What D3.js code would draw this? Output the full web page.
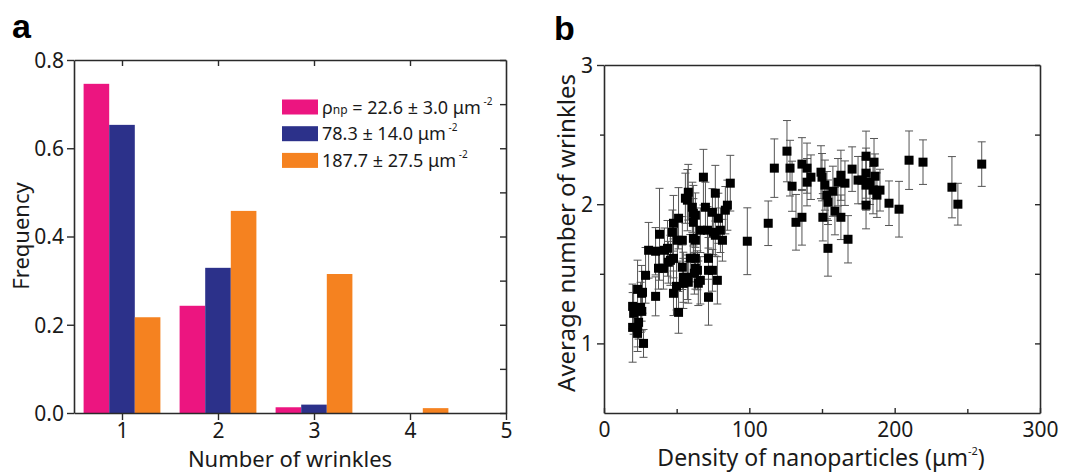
<!DOCTYPE html>
<html><head><meta charset="utf-8">
<script src="https://cdn.jsdelivr.net/npm/d3@7/dist/d3.min.js"></script>
<style>body{margin:0;background:#fff}svg{display:block;font-family:"Noto Sans","Open Sans",sans-serif}</style>
</head><body><svg id="c" width="1065" height="474"></svg>
<script>
// ---- Panel a data ----
const wrinkleCounts = [1, 2, 3, 4];
const seriesNames = ["22.6", "78.3", "187.7"];
const seriesColors = ["#EC1580", "#2C318A", "#F58220"];
const freqLow = [0.746, 0.243, 0.013, 0.0];
const freqMid = [0.653, 0.329, 0.019, 0.0];
const freqHigh = [0.217, 0.458, 0.315, 0.011];
const xTicksA = [1, 2, 3, 4, 5];
const yTicksA = [0.0, 0.2, 0.4, 0.6, 0.8];

// ---- Panel b data ----
const density = [19.7,25.2,20.4,26.0,23.8,19.7,23.1,23.1,27.2,23.1,25.9,28.6,35.5,30.7,35.5,41.6,38.2,37.5,40.9,43.7,45.7,44.3,47.8,51.3,47.8,49.9,47.8,51.3,47.1,53.9,50.5,53.9,54.6,57.4,58.0,54.6,57.4,58.0,56.0,60.8,61.5,62.9,61.5,61.5,62.9,59.4,62.9,62.2,64.3,64.9,62.9,66.3,66.3,68.4,69.8,71.2,71.9,71.9,74.6,71.9,74.6,75.2,76.6,76.6,78.0,78.7,80.1,81.5,83.5,84.9,86.9,26.5,
  98.6,117.2,113.0,125.9,128.0,129.4,132.1,136.2,136.2,139.7,139.7,142.4,149.3,150.0,152.0,153.4,154.1,157.5,158.9,163.0,150.6,154.1,161.0,163.0,165.8,167.9,170.7,174.8,180.3,185.8,180.3,186.5,177.6,180.3,183.0,185.1,189.9,187.8,180.3,196.1,203.0,209.9,219.5,239.4,243.5,259.9];
const avgWrinkles = [1.266,1.259,1.216,1.230,1.151,1.115,1.115,1.072,1.000,1.388,1.360,1.489,1.338,1.669,1.662,1.669,1.784,1.540,1.540,1.683,1.597,1.583,1.611,1.223,1.360,1.410,1.863,1.899,1.798,1.741,1.741,1.547,1.475,1.475,1.439,1.431,2.029,2.086,2.043,1.978,1.935,1.921,1.870,1.755,1.741,1.612,1.612,1.504,1.525,1.432,1.540,1.453,1.813,2.194,1.978,1.813,1.611,1.525,1.525,1.331,1.942,1.798,2.079,1.777,1.453,1.899,1.813,1.741,1.957,1.993,2.151,1.367,
  1.734,2.259,1.863,2.381,2.259,2.129,1.870,1.906,2.288,2.259,2.158,2.194,2.230,2.194,2.137,2.065,2.014,2.093,1.950,1.906,1.906,1.683,2.158,2.208,2.151,1.748,2.252,2.173,2.345,2.302,2.223,2.201,2.173,2.137,2.158,2.101,2.101,2.065,1.993,2.007,1.964,2.316,2.302,2.122,2.000,2.288];
const wrinkleErr = [0.16,0.18,0.15,0.14,0.12,0.25,0.14,0.13,0.10,0.21,0.20,0.20,0.14,0.20,0.17,0.16,0.33,0.15,0.15,0.20,0.18,0.15,0.14,0.15,0.16,0.17,0.20,0.22,0.16,0.17,0.15,0.16,0.18,0.16,0.15,0.18,0.22,0.20,0.18,0.18,0.20,0.16,0.17,0.15,0.16,0.17,0.14,0.15,0.14,0.16,0.15,0.17,0.16,0.20,0.18,0.17,0.15,0.16,0.15,0.20,0.17,0.16,0.20,0.15,0.17,0.18,0.16,0.15,0.17,0.18,0.20,0.15,
  0.24,0.21,0.16,0.22,0.20,0.18,0.20,0.20,0.19,0.18,0.17,0.16,0.19,0.17,0.18,0.17,0.16,0.18,0.17,0.16,0.17,0.20,0.17,0.18,0.16,0.17,0.16,0.17,0.18,0.17,0.18,0.16,0.17,0.18,0.16,0.17,0.15,0.16,0.17,0.16,0.20,0.21,0.16,0.22,0.15,0.16];
const xTicksB = [0, 100, 200, 300];
const xMinorB = [50, 150, 250];
const yTicksB = [1, 2, 3];
const yMinorB = [1.5, 2.5];

const svg = d3.select("#c");
const axisColor = "#2a2a2a";
const FONT = '"Noto Sans","Open Sans",sans-serif';

// ================= Panel a =================
const xA = d3.scaleLinear().domain([0.5, 5]).range([74, 506]);
const yA = d3.scaleLinear().domain([0, 0.8]).range([413, 60]);
const offs = d3.scaleBand().domain(seriesNames).range([-0.4, 0.4]);
const seriesVals = [freqLow, freqMid, freqHigh];

const gA = svg.append("g");
seriesVals.forEach((vals, si) => {
  gA.selectAll(null).data(wrinkleCounts.map((c, i) => ({c, v: vals[i]}))).enter()
    .append("rect")
    .attr("x", d => xA(d.c + offs(seriesNames[si])))
    .attr("width", d => xA(d.c + offs(seriesNames[si]) + offs.bandwidth()) - xA(d.c + offs(seriesNames[si])))
    .attr("y", d => yA(d.v))
    .attr("height", d => yA(0) - yA(d.v))
    .attr("fill", seriesColors[si]);
});

function styleAxis(g, fs) {
  g.selectAll("path.domain").attr("stroke", axisColor).attr("stroke-width", 1.6);
  g.selectAll(".tick line").attr("stroke", axisColor).attr("stroke-width", 1.4);
  g.selectAll(".tick text").attr("fill", "#1a1a1a").style("font-family", FONT).style("font-size", fs + "px");
}
function noText(g) { g.selectAll(".tick text").remove(); }

// bottom
const axBA = gA.append("g").attr("transform", `translate(0,${yA(0)})`)
  .call(d3.axisBottom(xA).tickValues(xTicksA).tickFormat(d3.format("d")).tickSizeInner(7).tickSizeOuter(0).tickPadding(3));
styleAxis(axBA, 21);
// top (ticks inward)
const axTA = gA.append("g").attr("transform", `translate(0,${yA(0.8)})`)
  .call(d3.axisTop(xA).tickValues([1,2,3,4]).tickSizeInner(-6).tickSizeOuter(0));
styleAxis(axTA, 21); noText(axTA);
// left
const axLA = gA.append("g").attr("transform", `translate(${xA(0.5)},0)`)
  .call(d3.axisLeft(yA).tickValues(yTicksA).tickFormat(d3.format(".1f")).tickSizeInner(7).tickSizeOuter(0).tickPadding(3));
styleAxis(axLA, 21);
axLA.selectAll(".tick text").attr("dy", "0.35em");
// right (ticks inward, every 0.1)
const axRA = gA.append("g").attr("transform", `translate(${xA(5)},0)`)
  .call(d3.axisRight(yA).tickValues(d3.range(0, 0.81, 0.1)).tickSizeInner(-6).tickSizeOuter(0));
styleAxis(axRA, 21); noText(axRA);

gA.append("text").attr("x", 290).attr("y", 467).attr("text-anchor", "middle")
  .style("font-size", "22px").attr("fill", "#1a1a1a").text("Number of wrinkles");
gA.append("text").attr("transform", "translate(29,236) rotate(-90)").attr("text-anchor", "middle")
  .style("font-size", "22px").attr("fill", "#1a1a1a").text("Frequency");
gA.append("text").attr("x", 12).attr("y", 38).style("font-size", "34px").style("font-weight", "bold")
  .style("font-family", '"Liberation Sans",Arial,sans-serif').text("a");

// legend
const legendRows = [
  {pre: "ρ", sub: "np", main: " = 22.6 ± 3.0 μm"},
  {pre: "", sub: "", main: "78.3 ± 14.0 μm"},
  {pre: "", sub: "", main: "187.7 ± 27.5 μm"}
];
legendRows.forEach((r, i) => {
  const cy = 107 + i * 26.7;
  gA.append("rect").attr("x", 282).attr("y", cy - 7.5).attr("width", 36).attr("height", 15).attr("fill", seriesColors[i]);
  const t = gA.append("text").attr("x", 322).attr("y", cy + 6.5).style("font-size", "18px").attr("fill", "#1a1a1a");
  if (r.pre) {
    t.append("tspan").text(r.pre);
    t.append("tspan").style("font-size", "12px").text(r.sub);
  }
  t.append("tspan").text(r.main);
  t.append("tspan").attr("dy", -9).style("font-size", "10px").text(" -2");
});

// ================= Panel b =================
const xB = d3.scaleLinear().domain([0, 300]).range([604, 1040]);
const yB = d3.scaleLinear().domain([0.5, 3]).range([413, 65]);
const gB = svg.append("g");
const pts = density.map((x, i) => ({x, y: avgWrinkles[i], e: wrinkleErr[i]}));

// error bars
const eb = gB.append("g").attr("stroke", "#555").attr("stroke-width", 1);
eb.selectAll("line.v").data(pts).enter().append("line")
  .attr("x1", d => xB(d.x)).attr("x2", d => xB(d.x))
  .attr("y1", d => yB(d.y - d.e)).attr("y2", d => yB(d.y + d.e));
eb.selectAll("line.t").data(pts).enter().append("line")
  .attr("x1", d => xB(d.x) - 4).attr("x2", d => xB(d.x) + 4)
  .attr("y1", d => yB(d.y + d.e)).attr("y2", d => yB(d.y + d.e));
eb.selectAll("line.b").data(pts).enter().append("line")
  .attr("x1", d => xB(d.x) - 4).attr("x2", d => xB(d.x) + 4)
  .attr("y1", d => yB(d.y - d.e)).attr("y2", d => yB(d.y - d.e));
gB.selectAll("rect.m").data(pts).enter().append("rect")
  .attr("x", d => xB(d.x) - 4.5).attr("y", d => yB(d.y) - 4.5)
  .attr("width", 9).attr("height", 9).attr("fill", "#000");

const axBB = gB.append("g").attr("transform", `translate(0,${yB(0.5)})`)
  .call(d3.axisBottom(xB).tickValues(xTicksB).tickFormat(d3.format("d")).tickSizeInner(-5).tickSizeOuter(0).tickPadding(9));
styleAxis(axBB, 21);
const axBm = gB.append("g").attr("transform", `translate(0,${yB(0.5)})`)
  .call(d3.axisBottom(xB).tickValues(xMinorB).tickSizeInner(-4).tickSizeOuter(0));
styleAxis(axBm, 21); noText(axBm); axBm.select("path.domain").remove();
const axTB = gB.append("g").attr("transform", `translate(0,${yB(3)})`)
  .call(d3.axisTop(xB).tickValues([]).tickSizeOuter(0));
styleAxis(axTB, 21);
const axLB = gB.append("g").attr("transform", `translate(${xB(0)},0)`)
  .call(d3.axisLeft(yB).tickValues(yTicksB).tickFormat(d3.format("d")).tickSizeInner(7).tickSizeOuter(0).tickPadding(4));
styleAxis(axLB, 21);
axLB.selectAll(".tick text").attr("dy", "0.35em");
const axLm = gB.append("g").attr("transform", `translate(${xB(0)},0)`)
  .call(d3.axisLeft(yB).tickValues(yMinorB).tickSizeInner(4).tickSizeOuter(0));
styleAxis(axLm, 21); noText(axLm); axLm.select("path.domain").remove();
const axRB = gB.append("g").attr("transform", `translate(${xB(300)},0)`)
  .call(d3.axisRight(yB).tickValues(yTicksB.concat(yMinorB)).tickSizeInner(-5).tickSizeOuter(0));
styleAxis(axRB, 21); noText(axRB);

const xl = gB.append("text").attr("x", 821).attr("y", 466).attr("text-anchor", "middle")
  .style("font-size", "23px").attr("fill", "#1a1a1a");
xl.append("tspan").text("Density of nanoparticles (μm");
xl.append("tspan").attr("dy", -11).style("font-size", "11px").text("-2");
xl.append("tspan").attr("dy", 11).text(")");
gB.append("text").attr("transform", "translate(575,233) rotate(-90)").attr("text-anchor", "middle")
  .style("font-size", "24px").attr("fill", "#1a1a1a").text("Average number of wrinkles");
gB.append("text").attr("x", 554).attr("y", 40).style("font-size", "34px").style("font-weight", "bold")
  .style("font-family", '"Liberation Sans",Arial,sans-serif').text("b");
</script></body></html>
